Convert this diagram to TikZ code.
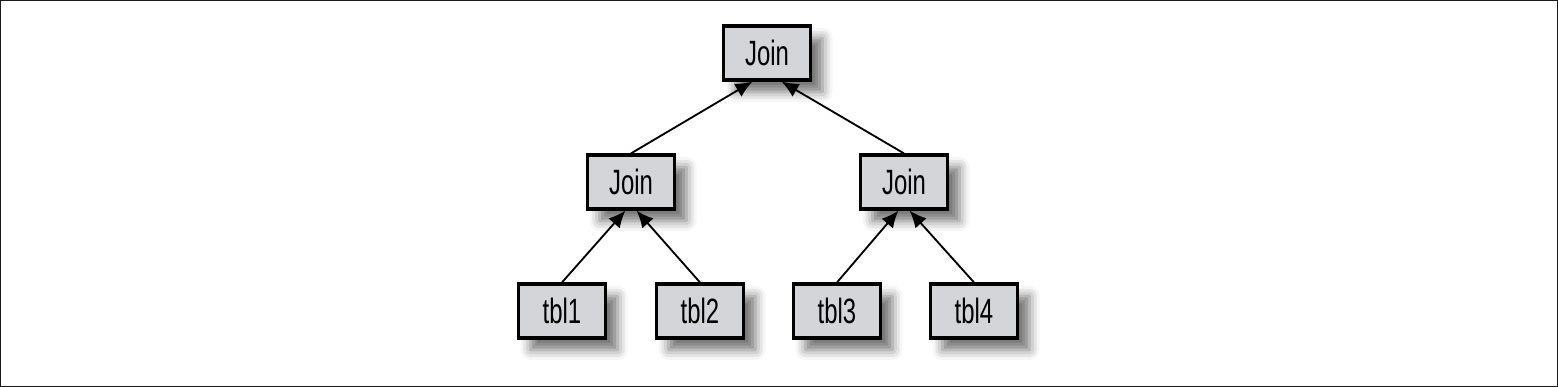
\documentclass[tikz,border=0pt]{standalone}
\usepackage{fontspec}
\setmainfont{Liberation Sans}[FakeStretch=0.68]
\usetikzlibrary{arrows.meta,shadows.blur}
\definecolor{JNFill}{HTML}{D3D5D8}
\definecolor{JNFrame}{HTML}{1A1A1A}

\tikzset{
  qbox/.style={draw=black,line width=1.8pt,fill=JNFill,
    minimum width=1.74cm,minimum height=1.08cm,inner sep=0pt,
    font=\fontsize{20}{23}\selectfont,
    blur shadow={shadow xshift=.24cm,shadow yshift=-.24cm,
      shadow blur radius=.2cm,shadow opacity=55}},
  qedge/.style={-{Latex[length=.34cm,width=.3cm]},line width=1.05pt}
}

\begin{document}
\begin{tikzpicture}[x=1cm,y=1cm]
\path[use as bounding box] (0,0) rectangle (31.16,7.74);
\draw[JNFrame,line width=.6pt] (0.01,0.01) rectangle (31.15,7.73);
% query tree
\node[qbox] (join0) at (15.34,6.68) {Join};
\node[qbox] (join1) at (12.62,4.10) {Join};
\node[qbox] (join2) at (18.08,4.10) {Join};
\node[qbox] (tbl1) at (11.24,1.52) {tbl1};
\node[qbox] (tbl2) at (14.00,1.52) {tbl2};
\node[qbox] (tbl3) at (16.74,1.52) {tbl3};
\node[qbox] (tbl4) at (19.48,1.52) {tbl4};
\draw[qedge] (join1.north) -- (join0.243);
\draw[qedge] (join2.north) -- (join0.297);
\draw[qedge] (tbl1.north) -- (join1.259);
\draw[qedge] (tbl2.north) -- (join1.281);
\draw[qedge] (tbl3.north) -- (join2.259);
\draw[qedge] (tbl4.north) -- (join2.281);
\end{tikzpicture}
\end{document}
